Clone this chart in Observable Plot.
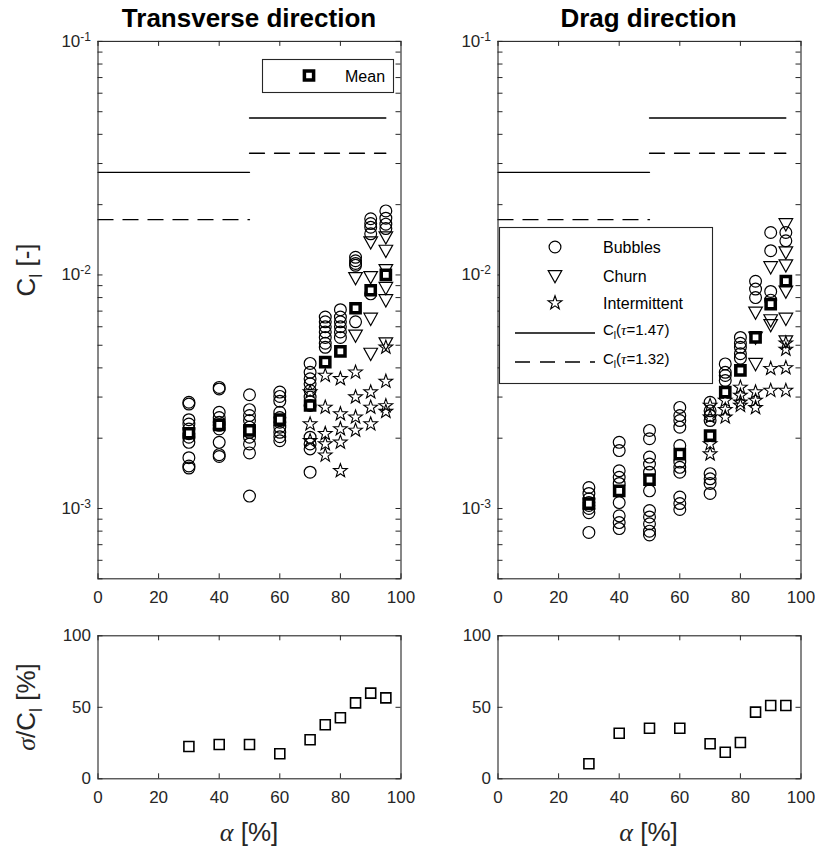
<!DOCTYPE html>
<html>
<head>
<meta charset="utf-8">
<script src="https://cdn.jsdelivr.net/npm/d3@7"></script>
<script src="https://cdn.jsdelivr.net/npm/@observablehq/plot@0.6"></script>
<style>
  body { margin: 0; background: #fff; }
  #fig { position: relative; width: 815px; height: 847px; font-family: "Liberation Sans", Arial, sans-serif; color: #262626; overflow: hidden; }
  .panel { position: absolute; }
  .title { position: absolute; font-weight: bold; font-size: 26px; color: #000; transform: translate(-50%, -50%); white-space: nowrap; line-height: 1; }
  .ylab { position: absolute; font-size: 26px; transform: translate(-50%, -50%) rotate(-90deg); white-space: nowrap; line-height: 1; }
  .xlab { position: absolute; font-size: 26px; transform: translate(-50%, -50%); white-space: nowrap; line-height: 1; }
  .gr { font-family: "Liberation Serif", "DejaVu Serif", serif; font-style: italic; }
  sub { font-size: 70%; vertical-align: -0.35em; }
  #overlay { position: absolute; left: 0; top: 0; pointer-events: none; }
</style>
</head>
<body>
<div id="fig">
  <div class="title" style="left:249px; top:18px;">Transverse direction</div>
  <div class="title" style="left:648.5px; top:18px;">Drag direction</div>
  <div class="ylab" style="left:29px; top:270px;">C<sub>l</sub> [-]</div>
  <div class="ylab" style="left:29px; top:707px;"><span class="gr">σ</span>/C<sub>l</sub> [%]</div>
  <div class="xlab" style="left:249px; top:832px;"><span class="gr">α</span> [%]</div>
  <div class="xlab" style="left:648.5px; top:832px;"><span class="gr">α</span> [%]</div>
</div>
<script>
// ---------------- data ----------------
const alphas = [30, 40, 50, 60, 70, 75, 80, 85, 90, 95];

// Transverse direction, C_l values per alpha
const transBubbles = [
  [2.85e-3, 2.80e-3, 2.40e-3, 2.30e-3, 2.19e-3, 2.09e-3, 2.02e-3, 1.92e-3, 1.65e-3, 1.52e-3, 1.49e-3],
  [3.30e-3, 3.25e-3, 2.58e-3, 2.45e-3, 2.34e-3, 2.27e-3, 2.19e-3, 1.92e-3, 1.70e-3, 1.67e-3],
  [3.07e-3, 2.65e-3, 2.50e-3, 2.38e-3, 2.23e-3, 2.12e-3, 2.02e-3, 1.89e-3, 1.73e-3, 1.13e-3],
  [3.15e-3, 3.02e-3, 2.88e-3, 2.58e-3, 2.45e-3, 2.34e-3, 2.23e-3, 2.12e-3, 2.03e-3, 1.95e-3],
  [4.18e-3, 3.83e-3, 3.59e-3, 3.42e-3, 3.20e-3, 3.00e-3, 2.76e-3, 2.02e-3, 1.89e-3, 1.80e-3, 1.43e-3],
  [6.6e-3, 6.3e-3, 6.0e-3, 5.7e-3, 5.4e-3, 5.1e-3, 4.9e-3],
  [7.1e-3, 6.6e-3, 6.3e-3, 6.0e-3, 5.7e-3, 5.4e-3],
  [1.19e-2, 1.15e-2, 1.12e-2, 1.10e-2, 6.3e-3],
  [1.74e-2, 1.66e-2, 1.60e-2, 1.50e-2, 8.3e-3],
  [1.88e-2, 1.75e-2, 1.65e-2, 1.58e-2]
];
const transChurn = [
  [], [], [], [], [], [], [],
  [9.7e-3, 5.5e-3],
  [1.38e-2, 9.8e-3, 6.5e-3, 4.6e-3],
  [1.45e-2, 1.27e-2, 1.05e-2, 8.8e-3, 7.8e-3, 5.1e-3]
];
const transInter = [
  [], [], [], [],
  [3.15e-3, 2.30e-3, 1.95e-3],
  [3.71e-3, 2.71e-3, 2.09e-3, 1.89e-3, 1.69e-3],
  [3.59e-3, 2.54e-3, 2.19e-3, 1.92e-3, 1.45e-3],
  [3.83e-3, 3.00e-3, 2.46e-3, 2.16e-3],
  [3.15e-3, 2.71e-3, 2.30e-3],
  [4.9e-3, 3.5e-3, 2.75e-3, 2.6e-3]
];
const transMean = [2.10e-3, 2.28e-3, 2.16e-3, 2.40e-3, 2.76e-3, 4.23e-3, 4.71e-3, 7.2e-3, 8.6e-3, 1.0e-2];

// Drag direction, C_l values per alpha
const dragBubbles = [
  [1.23e-3, 1.16e-3, 1.10e-3, 1.06e-3, 1.03e-3, 1.00e-3, 0.96e-3, 0.79e-3],
  [1.92e-3, 1.77e-3, 1.45e-3, 1.36e-3, 1.28e-3, 1.06e-3, 0.93e-3, 0.87e-3, 0.82e-3],
  [2.16e-3, 1.99e-3, 1.66e-3, 1.55e-3, 1.43e-3, 1.19e-3, 0.98e-3, 0.92e-3, 0.86e-3, 0.80e-3, 0.77e-3],
  [2.71e-3, 2.50e-3, 2.38e-3, 2.23e-3, 1.86e-3, 1.58e-3, 1.50e-3, 1.43e-3, 1.12e-3, 1.05e-3, 0.99e-3],
  [2.85e-3, 2.62e-3, 2.50e-3, 2.38e-3, 1.41e-3, 1.34e-3, 1.28e-3, 1.16e-3],
  [4.16e-3, 3.83e-3, 3.71e-3, 3.53e-3],
  [5.4e-3, 5.1e-3, 4.9e-3, 4.6e-3, 4.4e-3],
  [9.4e-3, 8.7e-3, 8.0e-3],
  [1.52e-2, 1.27e-2, 8.5e-3, 7.8e-3],
  [1.52e-2, 1.40e-2]
];
const dragChurn = [
  [], [], [], [], [], [], [],
  [6.9e-3, 5.4e-3, 4.16e-3],
  [1.08e-2, 6.4e-3, 6.1e-3],
  [1.65e-2, 1.25e-2, 1.10e-2, 8.5e-3, 6.5e-3, 5.2e-3]
];
const dragInter = [
  [], [], [], [],
  [2.76e-3, 2.46e-3, 1.89e-3, 1.71e-3],
  [2.90e-3, 2.65e-3, 2.46e-3],
  [3.30e-3, 3.05e-3, 2.85e-3, 2.76e-3],
  [3.15e-3, 2.90e-3, 2.70e-3],
  [3.97e-3, 3.20e-3],
  [5.1e-3, 4.8e-3, 4.0e-3, 3.2e-3]
];
const dragMean = [1.05e-3, 1.19e-3, 1.33e-3, 1.71e-3, 2.05e-3, 3.15e-3, 3.9e-3, 5.4e-3, 7.5e-3, 9.4e-3];

// sigma / C_l [%]
const transSpread = [22.6, 24.0, 24.0, 17.5, 27.3, 37.8, 42.7, 53.1, 59.9, 56.6];
const dragSpread  = [10.5, 31.9, 35.4, 35.4, 24.5, 18.6, 25.4, 46.6, 51.3, 51.3];

// Reference C_l levels: [alpha from, alpha to] per segment
const segAlpha = [[0, 50], [50, 95]];
const ciTau147 = [0.0275, 0.0470];
const ciTau132 = [0.01725, 0.0332];

// Ticks
const xTicks = [0, 20, 40, 60, 80, 100];
const yTicksLog = [1e-3, 1e-2, 1e-1];
const yTicksLin = [0, 50, 100];

// ---------------- helpers ----------------
const INK = "#262626";
const flat = (groups) => alphas.flatMap((a, i) => groups[i].map(v => ({a, v})));
const segData = (levels) => segAlpha.flatMap(([a0, a1], i) => [{a: a0, v: levels[i], s: i}, {a: a1, v: levels[i], s: i}]);
const yMinor = [1e-4, 1e-3, 1e-2].flatMap(d => d3.range(1, 10).map(k => k * d)).filter(v => v >= 5e-4 - 1e-12 && v <= 0.1 + 1e-12).concat([0.1]);
const powFmt = d => "10^" + Math.round(Math.log10(d));

const triDown = {draw(ctx, size) { const r = Math.sqrt(size / Math.PI); ctx.moveTo(-r, -0.8 * r); ctx.lineTo(r, -0.8 * r); ctx.lineTo(0, r); ctx.closePath(); }};
const star5 = {draw(ctx, size) { const R = Math.sqrt(size / Math.PI), r0 = R * 0.4; for (let i = 0; i < 10; i++) { const ang = -Math.PI / 2 + i * Math.PI / 5, rad = i % 2 ? r0 : R; const x = rad * Math.cos(ang), y = rad * Math.sin(ang); if (i) ctx.lineTo(x, y); else ctx.moveTo(x, y); } ctx.closePath(); }};
const sq = {draw(ctx, size) { const s = Math.sqrt(size / Math.PI); ctx.rect(-s, -s, 2 * s, 2 * s); }};

const baseStyle = {fontFamily: '"Liberation Sans", Arial, sans-serif', fontSize: "17px", color: INK, background: "transparent", overflow: "visible"};

// turn "10^-1" tick labels into 10 with a raised exponent
function superscripts(svgEl) {
  d3.select(svgEl).selectAll("text").each(function () {
    const m = (this.textContent || "").match(/^10\^(-?\d+)$/);
    if (!m) return;
    const t = d3.select(this);
    t.text("10");
    t.append("tspan").attr("dy", "-0.5em").attr("font-size", "12px").text(m[1]);
  });
  return svgEl;
}

function topPanel(bubbles, churn, inter, mean) {
  const W = 407.5, H = 620, mL = 97.5, mR = 7, mT = 40.9, mB = 41.7;
  const pw = W - mL - mR, ph = H - mT - mB;
  return superscripts(Plot.plot({
    width: W, height: H, marginLeft: mL, marginRight: mR, marginTop: mT, marginBottom: mB,
    x: {domain: [0, 100], label: null},
    y: {type: "log", domain: [5e-4, 0.1], label: null},
    style: baseStyle,
    marks: [
      Plot.line(segData(ciTau147), {x: "a", y: "v", z: "s", stroke: "#000", strokeWidth: 1.3}),
      Plot.line(segData(ciTau132), {x: "a", y: "v", z: "s", stroke: "#000", strokeWidth: 1.3, strokeDasharray: "15,10"}),
      Plot.dot(flat(bubbles), {x: "a", y: "v", r: 5.9, stroke: "#000", fill: "none", strokeWidth: 1.2}),
      Plot.dot(flat(churn), {x: "a", y: "v", symbol: triDown, r: 6.8, stroke: "#000", fill: "none", strokeWidth: 1.2}),
      Plot.dot(flat(inter), {x: "a", y: "v", symbol: star5, r: 7.2, stroke: "#000", fill: "none", strokeWidth: 1.1}),
      Plot.dot(alphas.map((a, i) => ({a, v: mean[i]})), {x: "a", y: "v", symbol: sq, r: 4.6, stroke: "#000", fill: "#fff", strokeWidth: 3.5}),
      Plot.tickX(xTicks, {x: d => d, insetTop: ph - 5, stroke: INK}),
      Plot.tickX(xTicks, {x: d => d, insetBottom: ph - 5, stroke: INK}),
      Plot.tickY(yMinor, {y: d => d, insetRight: pw - 5, stroke: INK}),
      Plot.tickY(yMinor, {y: d => d, insetLeft: pw - 5, stroke: INK}),
      Plot.frame({stroke: INK, strokeWidth: 1.1}),
      Plot.axisX(xTicks, {tickSize: 0, tickPadding: 12, label: null, fill: INK}),
      Plot.axisY(yTicksLog, {tickSize: 0, tickPadding: 7, label: null, tickFormat: powFmt, fill: INK})
    ]
  }));
}

function bottomPanel(spread) {
  const W = 407.5, H = 230, mL = 97.5, mR = 7, mT = 35.3, mB = 51.7;
  const pw = W - mL - mR, ph = H - mT - mB;
  return Plot.plot({
    width: W, height: H, marginLeft: mL, marginRight: mR, marginTop: mT, marginBottom: mB,
    x: {domain: [0, 100], label: null},
    y: {domain: [0, 100], label: null},
    style: baseStyle,
    marks: [
      Plot.dot(alphas.map((a, i) => ({a, v: spread[i]})), {x: "a", y: "v", symbol: sq, r: 5, stroke: "#000", fill: "none", strokeWidth: 1.6}),
      Plot.tickX(xTicks, {x: d => d, insetTop: ph - 5, stroke: INK}),
      Plot.tickX(xTicks, {x: d => d, insetBottom: ph - 5, stroke: INK}),
      Plot.tickY(yTicksLin, {y: d => d, insetRight: pw - 5, stroke: INK}),
      Plot.tickY(yTicksLin, {y: d => d, insetLeft: pw - 5, stroke: INK}),
      Plot.frame({stroke: INK, strokeWidth: 1.1}),
      Plot.axisX(xTicks, {tickSize: 0, tickPadding: 12, label: null, fill: INK}),
      Plot.axisY(yTicksLin, {tickSize: 0, tickPadding: 7, label: null, fill: INK})
    ]
  });
}

const fig = document.getElementById("fig");
function place(el, left, top) { el.classList.add("panel"); el.style.left = left + "px"; el.style.top = top + "px"; fig.appendChild(el); }
place(topPanel(transBubbles, transChurn, transInter, transMean), 0, 0);
place(topPanel(dragBubbles, dragChurn, dragInter, dragMean), 399.5, 0);
place(bottomPanel(transSpread), 0, 600);
place(bottomPanel(dragSpread), 399.5, 600);

// ---------------- legends (overlay) ----------------
const svg = d3.select(fig).append("svg").attr("id", "overlay").attr("width", 815).attr("height", 847)
  .style("font-family", '"Liberation Sans", Arial, sans-serif').style("fill", "#262626");
function sym(type, r) { return d3.symbol().type(type).size(Math.PI * r * r)(); }

// Mean legend (transverse panel)
svg.append("rect").attr("x", 262.5).attr("y", 59.5).attr("width", 131).attr("height", 33).attr("fill", "#fff").attr("stroke", INK).attr("stroke-width", 1.1);
svg.append("path").attr("d", sym(sq, 4.6)).attr("transform", "translate(309,75.5)").attr("fill", "#fff").attr("stroke", "#000").attr("stroke-width", 3.5);
svg.append("text").attr("x", 345).attr("y", 81.5).attr("font-size", 16).attr("fill", "#000").text("Mean");

// Regime legend (drag panel)
svg.append("rect").attr("x", 499.5).attr("y", 227.5).attr("width", 213).attr("height", 156).attr("fill", "#fff").attr("stroke", INK).attr("stroke-width", 1.1);
const items = [
  {y: 247, type: d3.symbolCircle, r: 5.9, label: "Bubbles"},
  {y: 276, type: triDown, r: 6.8, label: "Churn"},
  {y: 303, type: star5, r: 7.2, label: "Intermittent"}
];
for (const it of items) {
  svg.append("path").attr("d", sym(it.type, it.r)).attr("transform", `translate(555,${it.y})`).attr("fill", "none").attr("stroke", "#000").attr("stroke-width", 1.2);
  svg.append("text").attr("x", 603).attr("y", it.y + 6).attr("font-size", 16).attr("fill", "#000").text(it.label);
}
const lineItems = [{y: 333, dash: null, val: "1.47"}, {y: 362, dash: "15,10", val: "1.32"}];
for (const it of lineItems) {
  svg.append("line").attr("x1", 515).attr("x2", 595).attr("y1", it.y).attr("y2", it.y).attr("stroke", "#000").attr("stroke-width", 1.3).attr("stroke-dasharray", it.dash);
  const t = svg.append("text").attr("x", 603).attr("y", it.y + 2).attr("font-size", 15).attr("fill", "#000");
  t.append("tspan").text("C");
  t.append("tspan").attr("dy", 4).attr("font-size", 10).text("l");
  t.append("tspan").attr("dy", -4).text("(");
  t.append("tspan").attr("font-family", '"Liberation Serif", serif').attr("font-style", "italic").text("\u03C4");
  t.append("tspan").text("=" + it.val + ")");
}
</script>
</body>
</html>
